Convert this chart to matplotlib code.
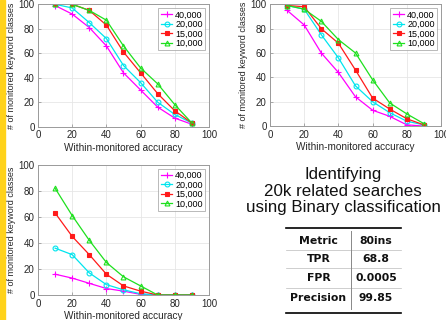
import matplotlib
matplotlib.use("Agg")
import matplotlib.pyplot as plt
from matplotlib.patches import Rectangle
from matplotlib.lines import Line2D

plt.rcParams['font.family'] = ['Liberation Sans', 'DejaVu Sans']

x_vals = [10, 20, 30, 40, 50, 60, 70, 80, 90]
series_labels = ["40,000", "20,000", "15,000", "10,000"]

p1_40k = [99, 92, 81, 66, 44, 30, 16, 7, 2]
p1_20k = [100, 97, 85, 72, 50, 36, 20, 10, 3]
p1_15k = [100, 100, 95, 83, 61, 44, 27, 13, 3]
p1_10k = [100, 100, 95, 87, 66, 48, 35, 18, 3]

p2_40k = [95, 83, 60, 44, 24, 13, 8, 1, 0]
p2_20k = [99, 96, 75, 56, 33, 20, 11, 4, 1]
p2_15k = [99, 98, 80, 68, 46, 23, 14, 6, 1]
p2_10k = [99, 96, 86, 71, 60, 38, 19, 10, 2]

p3_40k = [16, 13, 9, 5, 3, 0.5, 0, 0, 0]
p3_20k = [36, 31, 17, 8, 4, 1, 0, 0, 0]
p3_15k = [63, 45, 31, 16, 7, 3, 0, 0, 0]
p3_10k = [82, 61, 42, 25, 14, 7, 0, 0, 0]

x_ticks = [0, 20, 40, 60, 80, 100]
y_ticks = [0, 20, 40, 60, 80, 100]

table_rows = [["Metric", "80ins"], ["TPR", "68.8"], ["FPR", "0.0005"], ["Precision", "99.85"]]
title_lines = "Identifying\n20k related searches\nusing Binary classification"

styles = [
    dict(color="#ff00ff", marker="+", mfc="#ff00ff", ms=4),
    dict(color="#00e5ee", marker="o", mfc="none", ms=3.5),
    dict(color="#ff1a1a", marker="s", mfc="#ff1a1a", ms=3),
    dict(color="#1ee01e", marker="^", mfc="none", ms=3.5),
]

fig = plt.figure(figsize=(4.46, 3.2), dpi=100)
fig.patches.append(Rectangle((0, 0), 5 / 446, 1, transform=fig.transFigure,
                             color="#ffd21a", zorder=0))

def panel(rect, data):
    ax = fig.add_axes(rect)
    for ys, lab, st in zip(data, series_labels, styles):
        ax.plot(x_vals, ys, label=lab, color=st["color"], marker=st["marker"],
                markerfacecolor=st["mfc"], markeredgecolor=st["color"],
                markersize=st["ms"], linewidth=0.9, markeredgewidth=0.8)
    ax.set_xlim(0, 100)
    ax.set_ylim(0, 100)
    ax.set_xticks(x_ticks)
    ax.set_yticks(y_ticks)
    ax.grid(True, color="#e6e6e6", linewidth=0.6)
    ax.set_axisbelow(True)
    for s in ax.spines.values():
        s.set_color("#9a9a9a")
        s.set_linewidth(0.7)
    ax.tick_params(direction="in", length=2, width=0.6, color="#9a9a9a",
                   labelsize=7, labelcolor="#262626", pad=2.5)
    ax.set_xlabel("Within-monitored accuracy", fontsize=7.2, color="#262626", labelpad=2)
    ax.set_ylabel("# of monitored keyword classes", fontsize=6.5, color="#262626", labelpad=1.5)
    leg = ax.legend(loc="upper right", fontsize=6.5, frameon=True, fancybox=False,
                    borderpad=0.25, handlelength=1.3, handletextpad=0.3,
                    labelspacing=0.05, borderaxespad=0.45)
    leg.get_frame().set_edgecolor("#9a9a9a")
    leg.get_frame().set_linewidth(0.6)
    return ax

panel([0.0852, 0.604, 0.3834, 0.3826], [p1_40k, p1_20k, p1_15k, p1_10k])
panel([0.6054, 0.606, 0.3834, 0.3806], [p2_40k, p2_20k, p2_15k, p2_10k])
panel([0.0852, 0.078, 0.3834, 0.407], [p3_40k, p3_20k, p3_15k, p3_10k])

# Title text
fig.text(343 / 446, 1 - 191 / 320, title_lines, ha="center", va="center",
         fontsize=12.2, linespacing=1.15, color="#111111")

# Table
x_left, x_right, x_mid = 286 / 446, 401 / 446, 351 / 446
top_rule, bottom_rule = 1 - 228 / 320, 1 - 313 / 320
row_y = [241, 259, 278, 298]
fig.add_artist(Line2D([x_left, x_right], [top_rule, top_rule], color="black", lw=1.2,
                      transform=fig.transFigure))
fig.add_artist(Line2D([x_left, x_right], [bottom_rule, bottom_rule], color="black", lw=1.2,
                      transform=fig.transFigure))
for yb in [250, 268, 288]:
    yy = 1 - yb / 320
    fig.add_artist(Line2D([x_left, x_right], [yy, yy], color="#bbbbbb", lw=0.5,
                          transform=fig.transFigure))
fig.add_artist(Line2D([x_mid, x_mid], [1 - 231 / 320, 1 - 309 / 320], color="#888888", lw=0.7,
                      transform=fig.transFigure))
for (a, b), yp in zip(table_rows, row_y):
    yy = 1 - yp / 320
    fig.text((x_left + x_mid) / 2, yy, a, ha="center", va="center", fontsize=7.8,
             fontweight="bold", family="DejaVu Sans", color="#111111")
    fig.text((x_mid + x_right) / 2, yy, b, ha="center", va="center", fontsize=7.8,
             fontweight="bold", family="DejaVu Sans", color="#111111")

fig.savefig("out.png", dpi=100)
